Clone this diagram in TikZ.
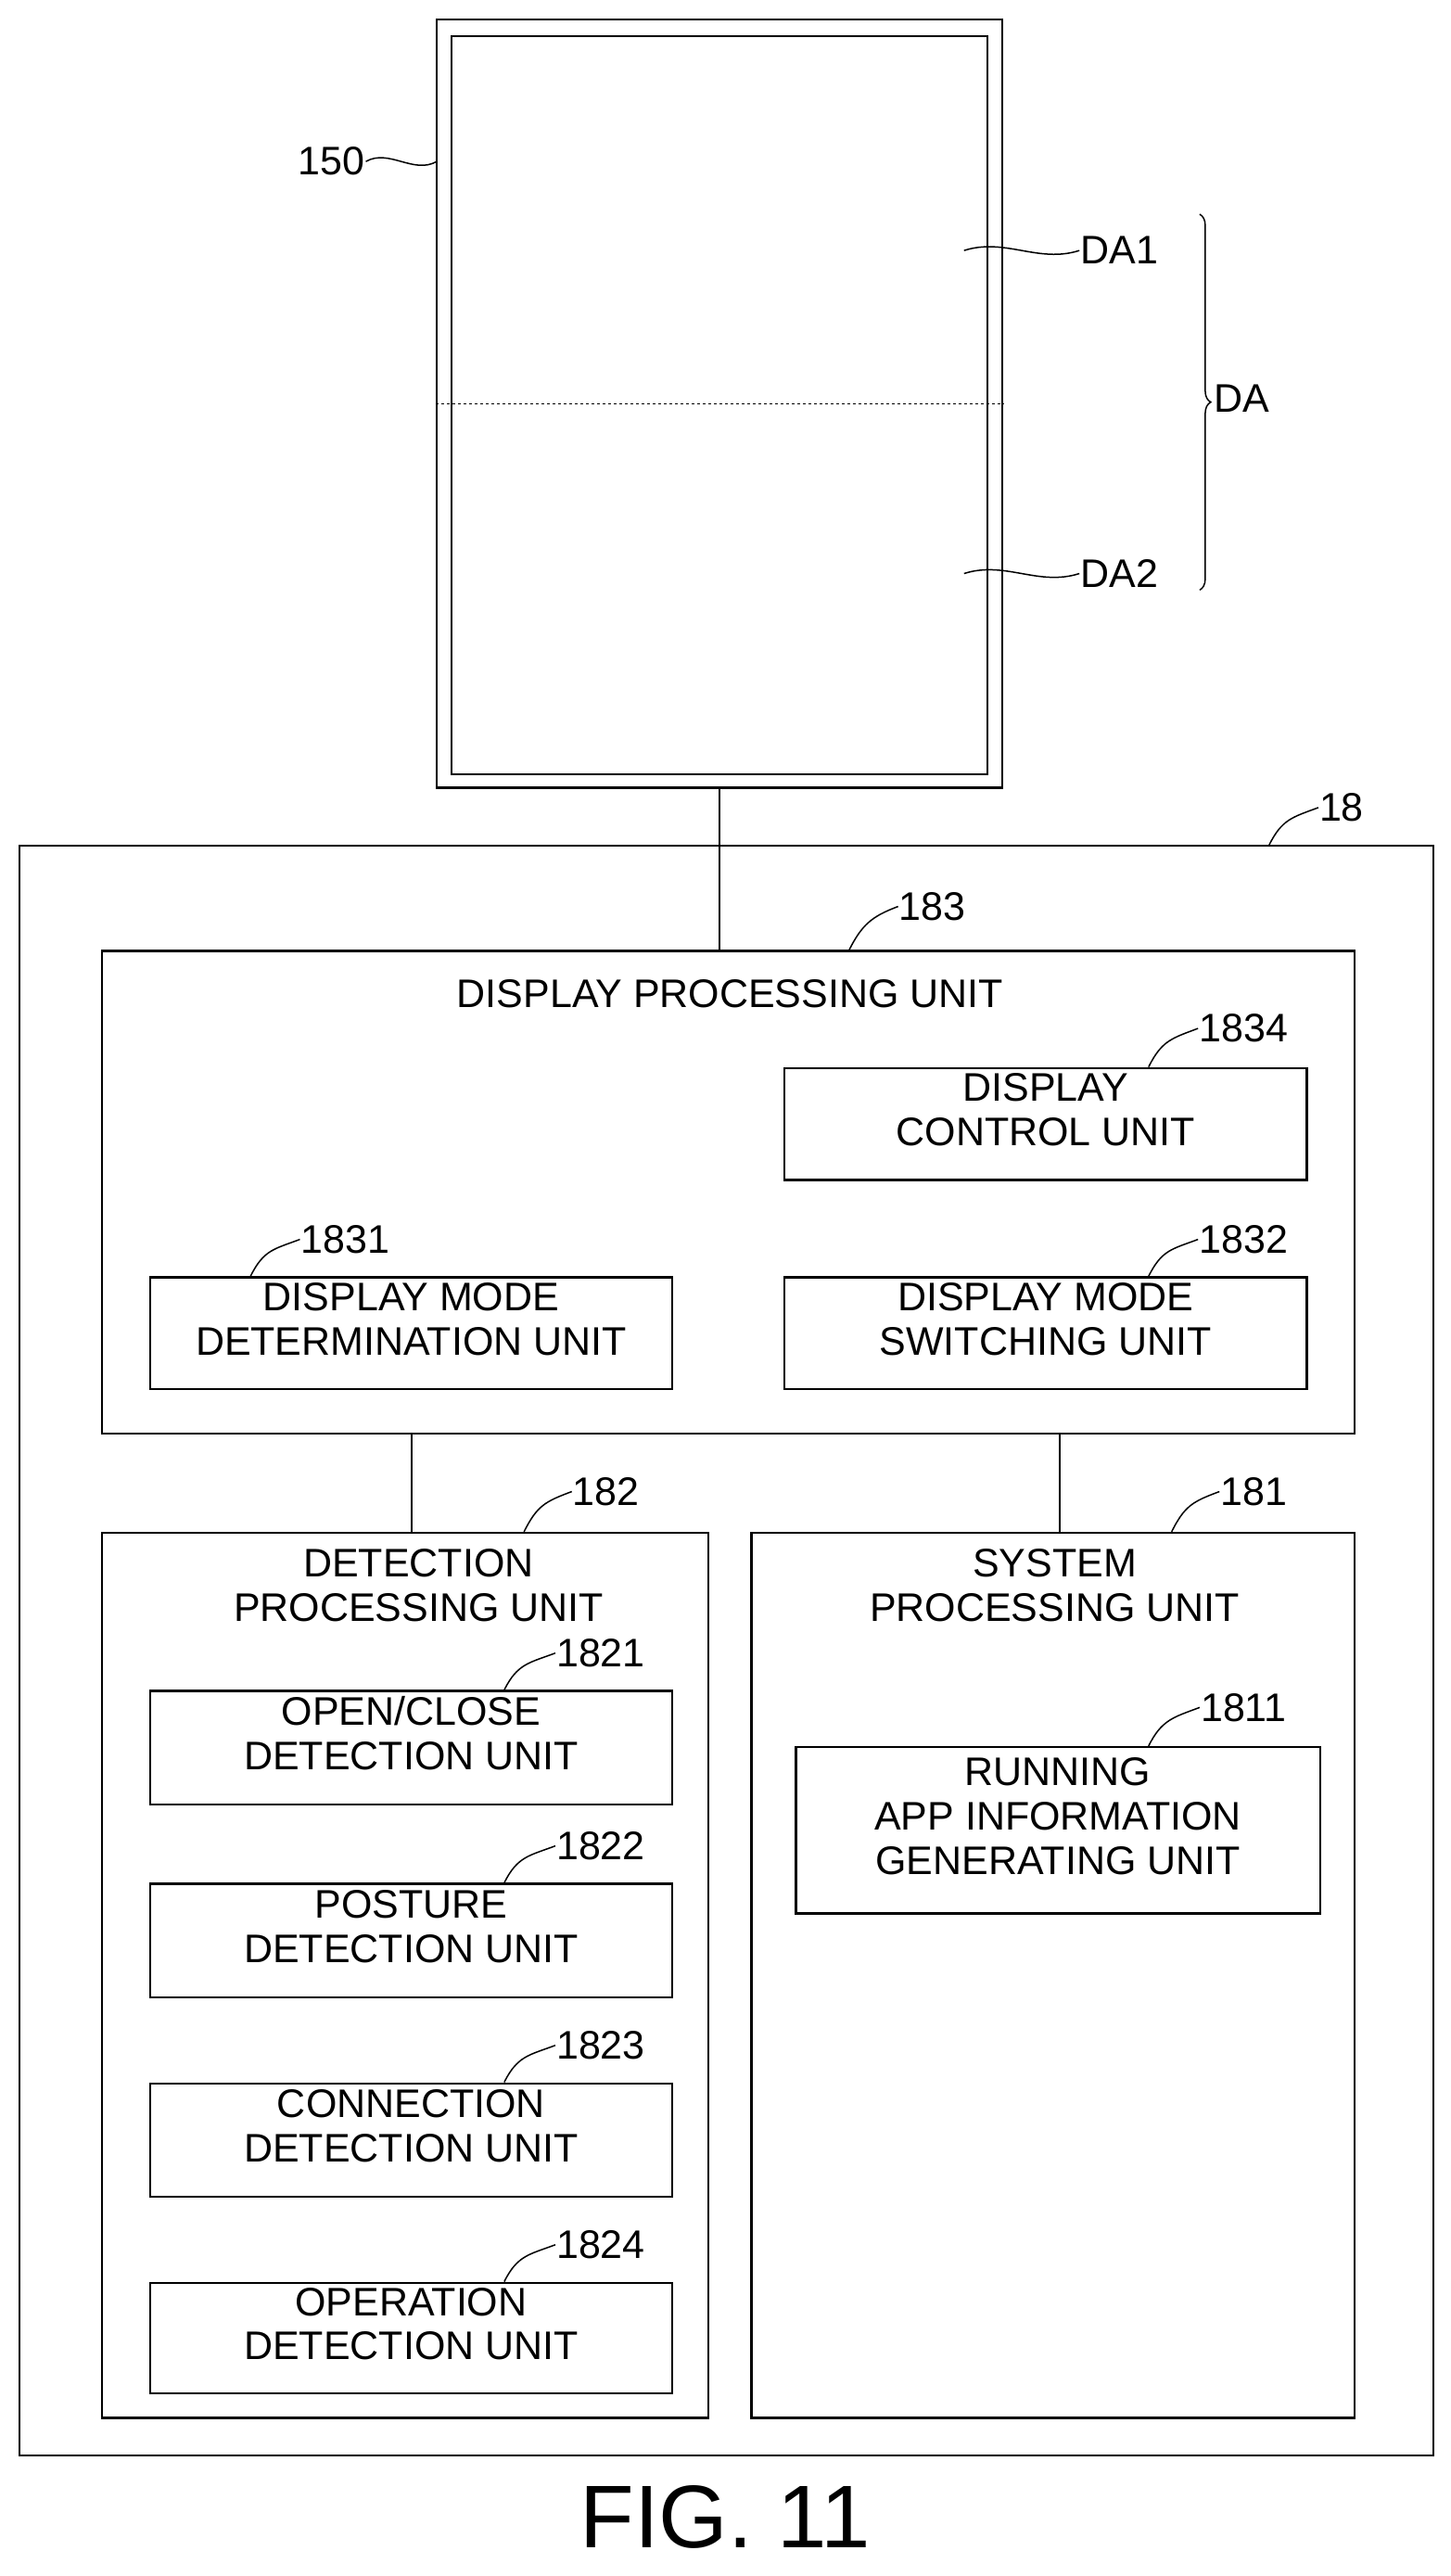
\documentclass[tikz,border=0pt]{standalone}
\usepackage{fontspec}
\setmainfont{Liberation Sans}
\usetikzlibrary{fit,decorations.pathreplacing,calc}
\begin{document}
\begin{tikzpicture}[x=1.778pt,y=-1.778pt,
  box/.style={draw,line width=2.2pt,inner sep=0pt,align=center,font=\fontsize{43}{48}\selectfont},
  lbl/.style={font=\fontsize{43}{48}\selectfont,inner sep=1pt},
  ttl/.style={font=\fontsize{43}{48}\selectfont,align=center,inner sep=0pt},
  ln/.style={line width=2pt},
  sq/.style={line width=1.5pt}]
\useasboundingbox (0,0) rectangle (880,1563);
% display 150
\node[box,fit={(265,12) (608,478)}] (d150) {};
\node[box,line width=2pt,fit={(274,22) (599,470)}] (din) {};
\draw[line width=1.2pt,dash pattern=on 3pt off 3pt] (d150.west |- 0,245) coordinate (dl) -- (d150.east |- 0,245) coordinate (dr);
\node[lbl,anchor=east] (l150) at (222,98) {150};
\coordinate (s150) at (265,98);
\draw[sq] (l150.east) .. controls +(14,-8) and +(-14,8) .. (s150);
\node[lbl,anchor=west] (da1) at (655,152) {DA1};
\node[lbl,anchor=west] (da2) at (655,348) {DA2};
\coordinate (a1) at (585,152); \coordinate (a2) at (585,348);
\draw[sq] (a1) .. controls +(25,-8) and +(-25,8) .. (da1.west);
\draw[sq] (a2) .. controls +(25,-8) and +(-25,8) .. (da2.west);
\coordinate (b1) at (728,130); \coordinate (b2) at (728,358);
\draw[line width=1.5pt,decorate,decoration={brace,amplitude=12pt}] (b1) -- (b2);
\node[lbl,anchor=west] (da) at (736,242) {DA};
% 18
\node[box,fit={(12,513) (870,1490)}] (u18) {};
\node[lbl,anchor=west] (l18) at (800,490) {18};
\coordinate (s18) at (770,513);
\draw[sq] (s18) .. controls +(8,-16) and +(-16,6) .. (l18.west);
% 183
\node[box,fit={(62,577) (822,870)}] (u183) {};
\node[ttl] (t183) at (443,603) {DISPLAY PROCESSING UNIT};
\node[lbl,anchor=west] (l183) at (545,550) {183};
\coordinate (s183) at (515,577);
\draw[sq] (s183) .. controls +(8,-16) and +(-16,6) .. (l183.west);
\draw[ln] (d150.south) -- (d150.south |- u183.north);
\node[box,fit={(476,648) (793,716)}] (u1834) {DISPLAY\\CONTROL UNIT};
\node[box,fit={(91,775) (408,843)}] (u1831) {DISPLAY MODE\\DETERMINATION UNIT};
\node[box,fit={(476,775) (793,843)}] (u1832) {DISPLAY MODE\\SWITCHING UNIT};
\node[lbl,anchor=west] (l1834) at (727,624) {1834};
\node[lbl,anchor=west] (l1831) at (182,752) {1831};
\node[lbl,anchor=west] (l1832) at (727,752) {1832};
\draw[sq] (u1834.north -| 697,0) .. controls +(8,-16) and +(-16,6) .. (l1834.west);
\draw[sq] (u1831.north -| 152,0) .. controls +(8,-16) and +(-16,6) .. (l1831.west);
\draw[sq] (u1832.north -| 697,0) .. controls +(8,-16) and +(-16,6) .. (l1832.west);
% 182
\node[box,fit={(62,930) (430,1467)}] (u182) {};
\node[ttl] (t182) at (254,962) {DETECTION\\PROCESSING UNIT};
\node[lbl,anchor=west] (l182) at (347,905) {182};
\draw[sq] (u182.north -| 318,0) .. controls +(8,-16) and +(-16,6) .. (l182.west);
\node[box,fit={(456,930) (822,1467)}] (u181) {};
\node[ttl] (t181) at (640,962) {SYSTEM\\PROCESSING UNIT};
\node[lbl,anchor=west] (l181) at (740,905) {181};
\draw[sq] (u181.north -| 711,0) .. controls +(8,-16) and +(-16,6) .. (l181.west);
\draw[ln] (250,870) coordinate (c1) -- (u182.north -| c1);
\draw[ln] (643,870) coordinate (c2) -- (u181.north -| c2);
% 182 children
\node[box,fit={(91,1026) (408,1095)}] (u1821) {OPEN/CLOSE\\DETECTION UNIT};
\node[box,fit={(91,1143) (408,1212)}] (u1822) {POSTURE\\DETECTION UNIT};
\node[box,fit={(91,1264) (408,1333)}] (u1823) {CONNECTION\\DETECTION UNIT};
\node[box,fit={(91,1385) (408,1452)}] (u1824) {OPERATION\\DETECTION UNIT};
\foreach \n/\y in {1821/1003,1822/1120,1823/1241,1824/1362}{
  \node[lbl,anchor=west] (l\n) at (337,\y) {\n};
  \draw[sq] (u\n.north -| 306,0) .. controls +(8,-16) and +(-16,6) .. (l\n.west);
}
\node[box,fit={(483,1060) (801,1161)}] (u1811) {RUNNING\\APP INFORMATION\\GENERATING UNIT};
\node[lbl,anchor=west] (l1811) at (728,1036) {1811};
\draw[sq] (u1811.north -| 697,0) .. controls +(8,-16) and +(-16,6) .. (l1811.west);
\node[font=\fontsize{96}{100}\selectfont] (fig) at (440,1527) {FIG. 11};
\end{tikzpicture}
\end{document}
